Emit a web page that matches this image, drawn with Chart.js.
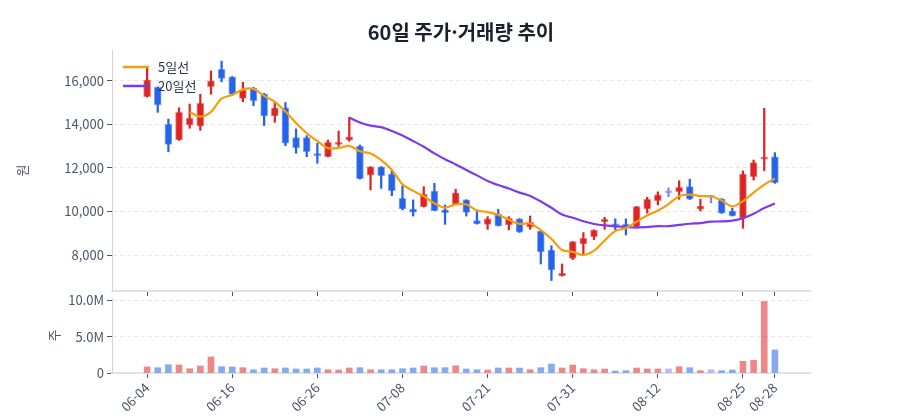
<!DOCTYPE html>
<html lang="ko">
<head>
<meta charset="utf-8">
<title>60일 주가·거래량 추이</title>
<script src="https://cdn.jsdelivr.net/npm/chart.js@4.4.1/dist/chart.umd.min.js"></script>
<style>
  html, body { margin: 0; padding: 0; background: #fff; }
  #wrap { position: relative; width: 900px; height: 420px; }
  #priceChart { position: absolute; left: 0; top: 0; }
  #volumeChart { position: absolute; left: 0; top: 280px; }
</style>
</head>
<body>
<div id="wrap">
  <canvas id="priceChart" width="900" height="310"></canvas>
  <canvas id="volumeChart" width="900" height="140"></canvas>
</div>
<script>
// trading days (MM-DD)
const dates = [
  '06-04', '06-05', '06-06', '06-09', '06-10', '06-11', '06-12', '06-13', '06-16', '06-17',
  '06-18', '06-19', '06-20', '06-23', '06-24', '06-25', '06-26', '06-27', '06-30', '07-01',
  '07-02', '07-03', '07-04', '07-07', '07-08', '07-09', '07-10', '07-11', '07-14', '07-15',
  '07-16', '07-18', '07-21', '07-22', '07-23', '07-24', '07-25', '07-28', '07-29', '07-30',
  '07-31', '08-01', '08-04', '08-05', '08-06', '08-07', '08-08', '08-11', '08-12', '08-13',
  '08-14', '08-18', '08-19', '08-20', '08-21', '08-22', '08-25', '08-26', '08-27', '08-28'
];
const opens = [
  15270, 15700, 14000, 13280, 13970, 13920, 15725, 16520, 16180, 15190,
  15650, 15390, 14380, 14760, 13390, 13390, 12620, 12510, 13080, 13270,
  13000, 11660, 12050, 11720, 10600, 10110, 10220, 10940, 10070, 10340,
  10530, 9580, 9410, 9880, 9380, 9660, 9275, 9100, 8230, 7040,
  7840, 8510, 8845, 9530, 9410, 9410, 9300, 10115, 10500, 10860,
  10910, 11140, 10100, 10650, 10575, 10020, 9690, 11600, 12400, 12510
];
const highs = [
  16580, 15720, 14240, 14760, 14930, 15380, 16450, 16900, 16190, 15930,
  15700, 15420, 15040, 15000, 13790, 13480, 13130, 13280, 13690, 14320,
  13050, 12060, 12060, 11900, 11180, 10530, 11140, 11290, 10300, 11020,
  10540, 10070, 9760, 10100, 9760, 9670, 9790, 9110, 8430, 7590,
  8620, 9030, 9160, 9730, 9660, 9660, 10230, 10650, 10900, 11080,
  11410, 11480, 10560, 10740, 10590, 10150, 11860, 12360, 14730, 12700
];
const lows = [
  15250, 14550, 12740, 13260, 13820, 13720, 15380, 15950, 15350, 15040,
  14850, 13940, 14090, 13020, 12670, 12510, 12210, 12500, 12990, 13220,
  11480, 10990, 11060, 10720, 10070, 9790, 10200, 10030, 9410, 10330,
  9790, 9420, 9180, 9330, 9150, 9040, 9180, 7590, 6830, 7030,
  7790, 8050, 8710, 9180, 9150, 8920, 9290, 9920, 10300, 10680,
  10560, 10550, 10020, 10400, 9910, 9790, 9230, 11440, 11870, 11290
];
const closes = [
  16030, 14890, 13080, 14550, 14275, 14960, 16000, 16110, 15380, 15570,
  15080, 14380, 14760, 13130, 12930, 12740, 12560, 13170, 13150, 13430,
  11500, 12050, 11640, 10955, 10120, 9970, 10790, 10040, 9950, 10860,
  9960, 9430, 9660, 9340, 9690, 9050, 9500, 8140, 7320, 7160,
  8615, 8770, 9150, 9640, 9340, 9300, 10220, 10560, 10760, 10860,
  11110, 10560, 10250, 10650, 9920, 9800, 11720, 12240, 12490, 11320
];
const ma5 = [
  null, null, null, null, 14565, 14351, 14573, 15179, 15345, 15604,
  15628, 15304, 15034, 14584, 14056, 13588, 13224, 12906, 12910, 13010,
  12762, 12660, 12354, 11915, 11253, 10947, 10695, 10375, 10174, 10322,
  10320, 10048, 9972, 9850, 9616, 9434, 9448, 9144, 8740, 8234,
  8147, 8001, 8203, 8667, 9103, 9240, 9530, 9812, 10036, 10340,
  10702, 10770, 10708, 10686, 10498, 10236, 10468, 10866, 11234, 11514
];
const ma20 = [
  null, null, null, null, null, null, null, null, null, null,
  null, null, null, null, null, null, null, null, null, 14309,
  14082, 13940, 13868, 13689, 13481, 13231, 12971, 12667, 12396, 12160,
  11904, 11657, 11402, 11212, 11050, 10866, 10713, 10461, 10170, 9856,
  9712, 9548, 9424, 9358, 9319, 9285, 9257, 9283, 9323, 9323,
  9381, 9437, 9467, 9532, 9544, 9581, 9692, 9897, 10156, 10364
];
const volumes = [
  830000, 730000, 1140000, 1100000, 590000, 960000, 2200000, 870000, 830000, 730000,
  450000, 690000, 590000, 690000, 550000, 550000, 690000, 450000, 410000, 690000,
  730000, 450000, 450000, 450000, 590000, 690000, 960000, 730000, 730000, 980000,
  550000, 450000, 410000, 690000, 690000, 690000, 450000, 730000, 1240000, 690000,
  1100000, 590000, 450000, 550000, 280000, 320000, 690000, 550000, 550000, 550000,
  870000, 730000, 320000, 450000, 320000, 410000, 1600000, 1740000, 9820000, 3170000
];
const dateTicks = ['06-04', '06-16', '06-26', '07-08', '07-21', '07-31', '08-12', '08-25', '08-28'];
const priceTicks = [8000, 10000, 12000, 14000, 16000];
const volumeTicks = [0, 5000000, 10000000];

const UP = '#dc2626', DOWN = '#2563eb', FLAT = '#7c83f2';
const UP_SOFT = 'rgba(220,38,38,0.55)', DOWN_SOFT = 'rgba(37,99,235,0.55)', FLAT_SOFT = 'rgba(124,131,242,0.55)';
const AXIS_TEXT = '#4a5568';
const GRID = '#e5e7eb';
const LEFT_W = 112, RIGHT_PAD = 90;
const X_MIN = -3.3, X_MAX = dates.length - 1 + 3.3;

Chart.defaults.font.family = '"Noto Sans CJK KR", "Noto Sans", sans-serif';
Chart.defaults.font.size = 13;
Chart.defaults.color = AXIS_TEXT;

function dir(i) {
  return closes[i] > opens[i] ? 1 : (closes[i] < opens[i] ? -1 : 0);
}
const candleColors = dates.map((d, i) => dir(i) > 0 ? UP : (dir(i) < 0 ? DOWN : FLAT));
const candleRims = dates.map((d, i) => dir(i) > 0 ? 'rgba(220,38,38,0.55)' : (dir(i) < 0 ? 'rgba(37,99,235,0.55)' : 'rgba(124,131,242,0.55)'));
const volumeColors = dates.map((d, i) => dir(i) > 0 ? UP_SOFT : (dir(i) < 0 ? DOWN_SOFT : FLAT_SOFT));

function setDayTicks(axis) {
  axis.ticks = dateTicks.map(t => ({ value: dates.indexOf(t) }));
}

const maLegend = {
  id: 'maLegend',
  afterDatasetsDraw(chart) {
    const ctx = chart.ctx;
    const a = chart.chartArea;
    const items = [{ label: '5일선', color: '#f59e0b' }, { label: '20일선', color: '#7c3aed' }];
    ctx.save();
    items.forEach((it, k) => {
      const y = a.top + 17 + k * 19;
      ctx.strokeStyle = it.color;
      ctx.lineWidth = 2.5;
      ctx.beginPath();
      ctx.moveTo(a.left + 11, y);
      ctx.lineTo(a.left + 37, y);
      ctx.stroke();
      ctx.fillStyle = '#2d3748';
      ctx.font = '13px "Noto Sans CJK KR", sans-serif';
      ctx.textBaseline = 'middle';
      ctx.fillText(it.label, a.left + 46, y);
    });
    ctx.restore();
  }
};

new Chart(document.getElementById('priceChart'), {
  type: 'bar',
  data: {
    datasets: [{
      type: 'line',
      label: '5일선',
      data: dates.map((d, i) => ({ x: i, y: ma5[i] })),
      borderColor: '#f59e0b',
      borderWidth: 2.2,
      pointRadius: 0,
      tension: 0.3,
      order: 0
    }, {
      type: 'line',
      label: '20일선',
      data: dates.map((d, i) => ({ x: i, y: ma20[i] })),
      borderColor: '#7c3aed',
      borderWidth: 2.2,
      pointRadius: 0,
      tension: 0.3,
      order: 0
    }, {
      label: 'body',
      data: dates.map((d, i) => ({ x: i, y: [opens[i], closes[i]] })),
      backgroundColor: candleColors,
      borderColor: candleRims,
      borderWidth: 1,
      borderSkipped: false,
      barThickness: 7,
      minBarLength: 2,
      grouped: false,
      order: 1
    }, {
      label: 'wick',
      data: dates.map((d, i) => ({ x: i, y: [lows[i], highs[i]] })),
      backgroundColor: candleColors,
      borderWidth: 0,
      barThickness: 1.6,
      grouped: false,
      order: 2
    }]
  },
  options: {
    responsive: false,
    animation: false,
    events: [],
    layout: { padding: { left: 0, right: RIGHT_PAD, top: 0, bottom: 0 } },
    scales: {
      x: {
        type: 'linear',
        min: X_MIN,
        max: X_MAX,
        offset: false,
        afterBuildTicks: setDayTicks,
        afterFit: s => { s.height = 19; },
        ticks: { display: false },
        grid: { offset: false, drawOnChartArea: false, drawTicks: true, tickLength: 5, tickColor: AXIS_TEXT, tickWidth: 1 },
        border: { color: '#dfe3e8', width: 2 }
      },
      y: {
        min: 6350,
        max: 17410,
        afterBuildTicks: axis => { axis.ticks = priceTicks.map(v => ({ value: v })); },
        afterFit: s => { s.width = LEFT_W; },
        ticks: {
          padding: 3,
          color: AXIS_TEXT,
          font: { size: 13 },
          callback: v => v.toLocaleString('en-US')
        },
        grid: { color: GRID, tickColor: AXIS_TEXT, tickLength: 5 },
        border: { color: '#d1d5db', width: 1, dash: [4, 3] },
        title: { display: true, text: '원', color: AXIS_TEXT, font: { size: 13 }, padding: { top: 14, bottom: 0 } }
      }
    },
    plugins: {
      legend: { display: false },
      tooltip: { enabled: false },
      title: {
        display: true,
        fullSize: false,
        text: '60일 주가·거래량 추이',
        color: '#1a202c',
        font: { size: 20, weight: 'bold' },
        padding: { top: 20, bottom: 6 }
      }
    }
  },
  plugins: [maLegend]
});

new Chart(document.getElementById('volumeChart'), {
  type: 'bar',
  data: {
    datasets: [{
      label: '거래량',
      data: dates.map((d, i) => ({ x: i, y: volumes[i] })),
      backgroundColor: volumeColors,
      borderWidth: 0,
      barThickness: 6,
      grouped: false
    }]
  },
  options: {
    responsive: false,
    animation: false,
    events: [],
    layout: { padding: { left: 0, right: RIGHT_PAD, top: 18, bottom: 0 } },
    scales: {
      x: {
        type: 'linear',
        min: X_MIN,
        max: X_MAX,
        offset: false,
        afterBuildTicks: setDayTicks,
        afterFit: s => { s.height = 47; },
        ticks: {
          autoSkip: false,
          maxRotation: 45,
          minRotation: 45,
          padding: 2,
          color: AXIS_TEXT,
          font: { size: 13 },
          callback: v => dates[v]
        },
        grid: { offset: false, drawOnChartArea: false, drawTicks: true, tickLength: 5, tickColor: AXIS_TEXT, tickWidth: 1 },
        border: { color: '#dfe3e8', width: 2 }
      },
      y: {
        min: 0,
        max: 10300000,
        afterBuildTicks: axis => { axis.ticks = volumeTicks.map(v => ({ value: v })); },
        afterFit: s => { s.width = LEFT_W; },
        ticks: {
          padding: 3,
          color: AXIS_TEXT,
          font: { size: 13 },
          callback: v => v === 0 ? '0' : (v / 1000000).toFixed(1) + 'M'
        },
        grid: { color: GRID, tickColor: AXIS_TEXT, tickLength: 5 },
        border: { color: '#d1d5db', width: 1, dash: [4, 3] },
        title: { display: true, text: '주', color: AXIS_TEXT, font: { size: 13 }, padding: { top: 46, bottom: 0 } }
      }
    },
    plugins: {
      legend: { display: false },
      tooltip: { enabled: false }
    }
  }
});
</script>
</body>
</html>
